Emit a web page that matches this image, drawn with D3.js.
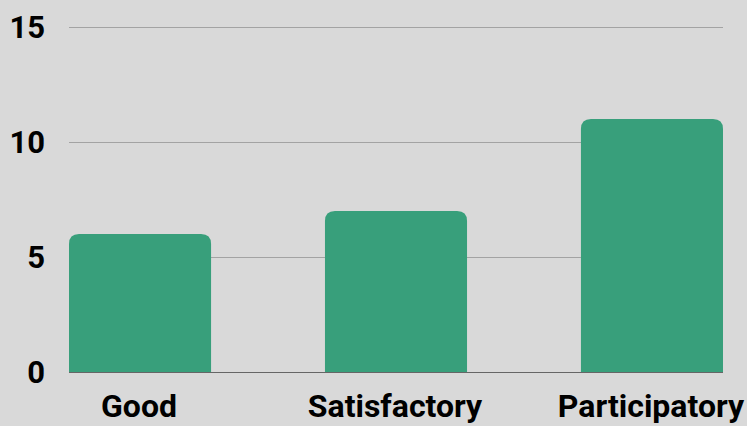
<!DOCTYPE html>
<html>
<head>
<meta charset="utf-8">
<script src="https://cdn.jsdelivr.net/npm/d3@7"></script>
<style>
  body { margin: 0; background: #d9d9d9; }
  text { font-family: Roboto, "Noto Sans", sans-serif; font-weight: bold; fill: #000; }
</style>
</head>
<body>
<div class="canvas"></div>
<script>
// data
const categories = ['Good', 'Satisfactory', 'Participatory'];
const values = [6, 7, 11];
const yTicks = [0, 5, 10, 15];

const width = 747, height = 426;
const margin = {top: 27, right: 24, bottom: 54, left: 69};
const graphWidth = width - margin.left - margin.right;
const graphHeight = height - margin.top - margin.bottom;

const svg = d3.select('.canvas')
  .append('svg')
    .attr('width', width)
    .attr('height', height)
    .style('display', 'block');

svg.append('rect')
  .attr('width', width)
  .attr('height', height)
  .attr('fill', '#d9d9d9');

const graph = svg.append('g')
  .attr('transform', `translate(${margin.left}, ${margin.top})`);

const y = d3.scaleLinear()
  .domain([0, 15])
  .range([graphHeight, 0]);

const x = d3.scaleBand()
  .domain(categories)
  .range([0, graphWidth])
  .paddingInner(0.445)
  .paddingOuter(0);

// gridlines
graph.selectAll('line.grid')
  .data(yTicks.filter(d => d > 0))
  .enter()
  .append('line')
    .attr('class', 'grid')
    .attr('x1', 0)
    .attr('x2', graphWidth)
    .attr('y1', d => Math.round(y(d)) + 0.5)
    .attr('y2', d => Math.round(y(d)) + 0.5)
    .attr('stroke', '#a3a3a3')
    .attr('stroke-width', 1);

// bars with rounded top corners
const r = 10;
graph.selectAll('path.bar')
  .data(values)
  .enter()
  .append('path')
    .attr('class', 'bar')
    .attr('fill', '#389f7b')
    .attr('d', (d, i) => {
      const x0 = x(categories[i]), w = x.bandwidth();
      const y0 = y(d), y1 = y(0);
      return `M${x0},${y1} V${y0 + r} Q${x0},${y0} ${x0 + r},${y0} H${x0 + w - r} Q${x0 + w},${y0} ${x0 + w},${y0 + r} V${y1} Z`;
    });

// baseline
graph.append('line')
  .attr('x1', 0)
  .attr('x2', graphWidth)
  .attr('y1', Math.round(y(0)) + 0.5)
  .attr('y2', Math.round(y(0)) + 0.5)
  .attr('stroke', '#666')
  .attr('stroke-width', 1);

// y axis labels
graph.selectAll('text.ylab')
  .data(yTicks)
  .enter()
  .append('text')
    .attr('class', 'ylab')
    .attr('x', -24)
    .attr('y', d => y(d))
    .attr('dy', '0.36em')
    .attr('text-anchor', 'end')
    .style('font-size', '31px')
    .text(d => d);

// x axis labels
graph.selectAll('text.xlab')
  .data(categories)
  .enter()
  .append('text')
    .attr('class', 'xlab')
    .attr('x', d => x(d) + x.bandwidth() / 2 - 1)
    .attr('y', graphHeight + 45)
    .attr('text-anchor', 'middle')
    .style('font-size', '32px')
    .text(d => d);
</script>
</body>
</html>
